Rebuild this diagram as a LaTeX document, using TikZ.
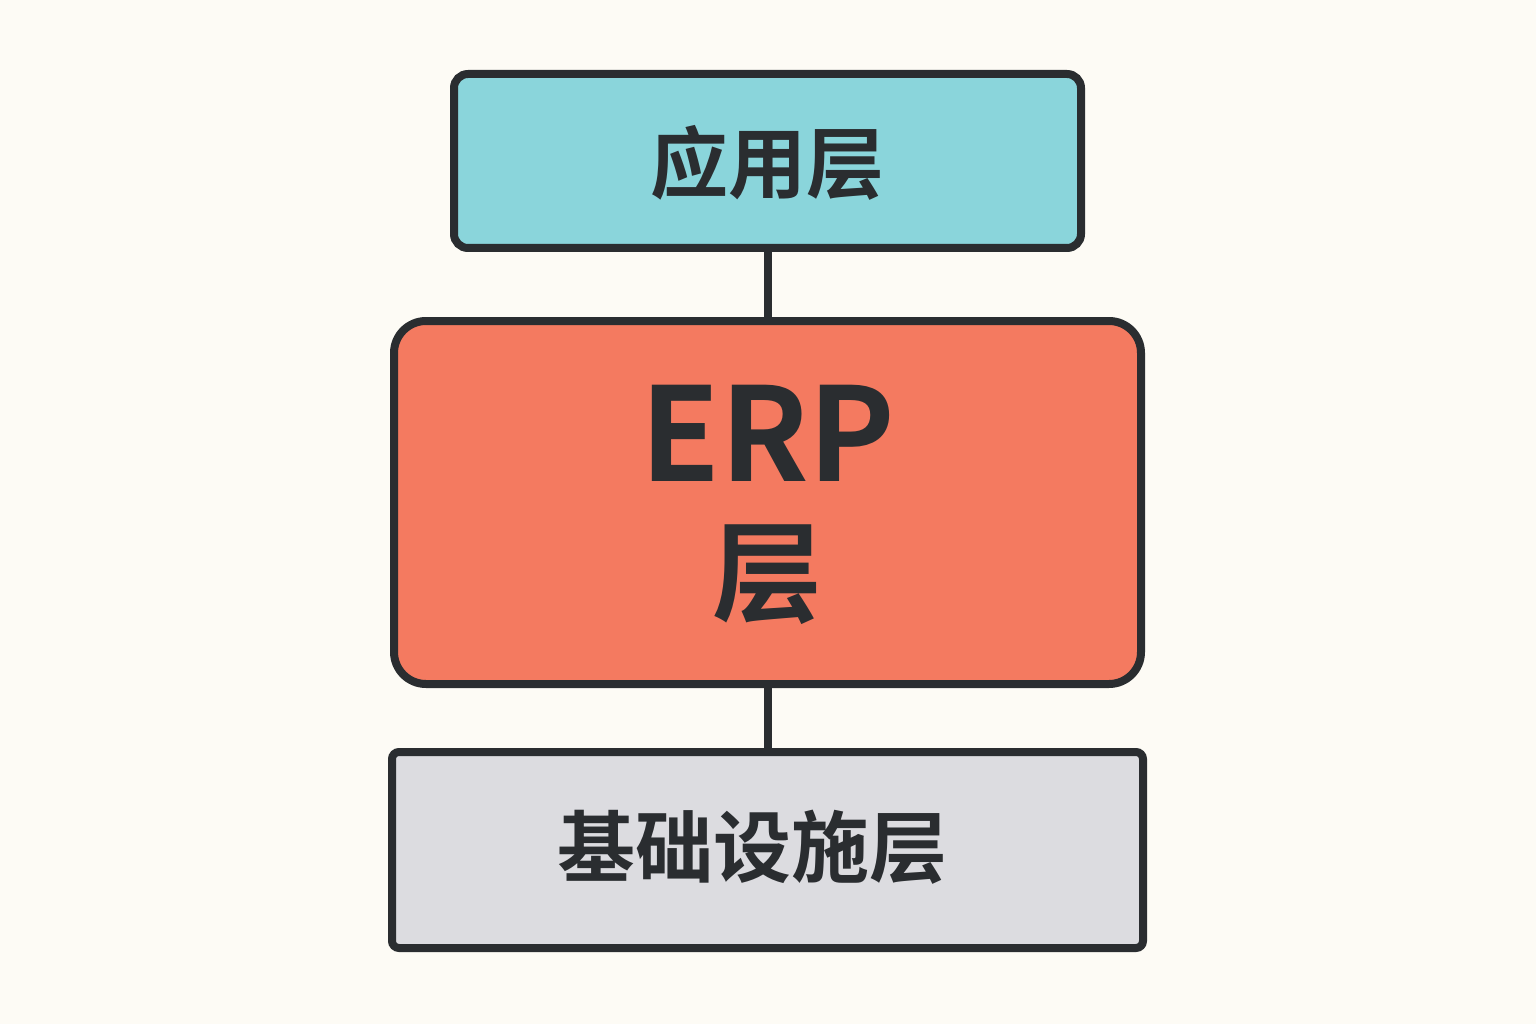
\documentclass[tikz,border=0pt]{standalone}
\usepackage{fontspec}
\newfontfamily\cjk{Noto Sans CJK SC Bold}
\definecolor{bg}{HTML}{FDFBF5}
\definecolor{ink}{HTML}{2A2D30}
\definecolor{appc}{HTML}{8AD5DB}
\definecolor{erpc}{HTML}{F47A60}
\definecolor{infc}{HTML}{DCDCE0}
\tikzset{
  layer/.style={draw=ink, line width=8pt, inner sep=0pt},
  lbl/.style={text=ink, inner sep=0pt, font=\cjk},
  link/.style={draw=ink, line width=8pt}
}
\begin{document}
\begin{tikzpicture}[x=1pt,y=1pt]
\fill[bg] (0,0) rectangle (1536,-1024);
\useasboundingbox (0,0) rectangle (1536,-1024);
\node[layer, fill=appc, rounded corners=14pt, minimum width=627pt, minimum height=174pt] (app) at (767.5,-161) {};
\node[layer, fill=erpc, rounded corners=32pt, minimum width=747pt, minimum height=363pt] (erp) at (767.5,-502.5) {};
\node[layer, fill=infc, rounded corners=7pt, minimum width=751pt, minimum height=196pt] (inf) at (767.5,-850) {};
\draw[link] (app.south) -- (erp.north);
\draw[link] (erp.south) -- (inf.north);
\node[lbl, font=\cjk\fontsize{78}{80}\selectfont] (tapp) at (767,-163) {应用层};
\node[lbl, font=\cjk\fontsize{130}{130}\selectfont] (terp) at (768,-433) {ERP};
\node[lbl, font=\cjk\fontsize{110}{110}\selectfont] (tlay) at (767,-575) {层};
\node[lbl, font=\cjk\fontsize{78}{80}\selectfont] (tinf) at (752,-847) {基础设施层};
\end{tikzpicture}
\end{document}
